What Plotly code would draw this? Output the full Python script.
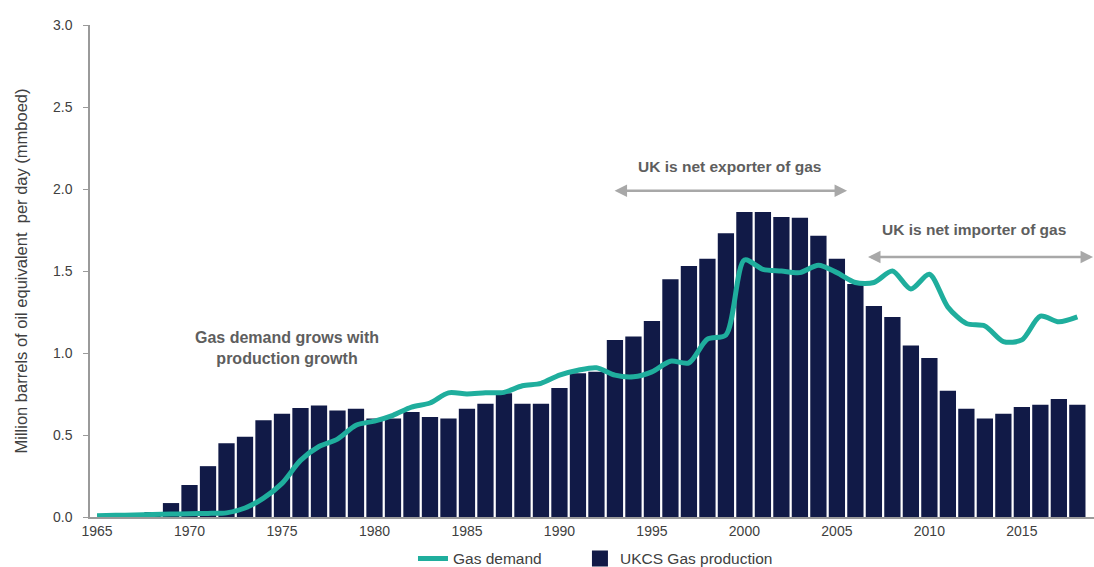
import plotly.graph_objects as go

# UK gas production (UKCS) and gas demand, million barrels of oil equivalent per day
years = list(range(1965, 2019))

production = [
    0.0, 0.0, 0.0, 0.03, 0.085, 0.195, 0.31, 0.45, 0.49, 0.59,
    0.63, 0.665, 0.68, 0.65, 0.66, 0.60, 0.60, 0.64, 0.61, 0.60,
    0.66, 0.69, 0.755, 0.69, 0.69, 0.787, 0.877, 0.885, 1.08, 1.10,
    1.195, 1.45, 1.53, 1.575, 1.73, 1.86, 1.86, 1.83, 1.825, 1.715,
    1.575, 1.42, 1.287, 1.22, 1.045, 0.97, 0.77, 0.66, 0.60, 0.63,
    0.67, 0.685, 0.72, 0.685,
]

demand = [
    0.008, 0.01, 0.012, 0.015, 0.018, 0.02, 0.022, 0.025, 0.055, 0.115,
    0.205, 0.345, 0.43, 0.475, 0.56, 0.585, 0.62, 0.67, 0.695, 0.757,
    0.75, 0.757, 0.76, 0.80, 0.815, 0.865, 0.895, 0.91, 0.865, 0.855,
    0.885, 0.95, 0.94, 1.085, 1.11, 1.567, 1.51, 1.50, 1.49, 1.535,
    1.49, 1.43, 1.43, 1.50, 1.39, 1.48, 1.28, 1.18, 1.165, 1.07,
    1.08, 1.225, 1.19, 1.22,
]

x_ticks = [1965, 1970, 1975, 1980, 1985, 1990, 1995, 2000, 2005, 2010, 2015]
y_ticks = [0.0, 0.5, 1.0, 1.5, 2.0, 2.5, 3.0]

BAR = "#111a47"
LINE = "#1fae9d"
GREY_TXT = "#5e5e5e"
ARROW = "#a8a8a8"
AXIS = "#9a9a9a"
TXT = "#404040"
FONT = "Liberation Sans, Arial, sans-serif"

fig = go.Figure()

fig.add_trace(go.Bar(
    x=years, y=production, name="UKCS Gas production",
    marker=dict(color=BAR, line=dict(width=0)),
    showlegend=False,
))

fig.add_trace(go.Scatter(
    x=years, y=demand, name="Gas demand", mode="lines",
    line=dict(color=LINE, width=5, shape="spline", smoothing=0.8),
    legend="legend",
))

# legend key for the production bars: a larger filled square
fig.add_trace(go.Scatter(
    x=[None], y=[None], name="UKCS Gas production", mode="markers",
    marker=dict(symbol="square", size=18, color=BAR),
    legend="legend2", hoverinfo="skip",
))

annotations = [
    dict(x=1975.27, y=1.03, xref="x", yref="y", showarrow=False,
         text="<b>Gas demand grows with<br>production growth</b>",
         font=dict(size=16, color=GREY_TXT, family=FONT), align="center"),
    dict(x=1999.19, y=2.14, xref="x", yref="y", showarrow=False,
         text="<b>UK is net exporter of gas</b>",
         font=dict(size=15.5, color=GREY_TXT, family=FONT)),
    dict(x=2012.4, y=1.755, xref="x", yref="y", showarrow=False,
         text="<b>UK is net importer of gas</b>",
         font=dict(size=15.5, color=GREY_TXT, family=FONT)),
    # double-headed period arrows
    dict(x=2005.55, y=1.99, ax=1992.9, ay=1.99, xref="x", yref="y",
         axref="x", ayref="y", text="", showarrow=True,
         arrowhead=2, startarrowhead=2, arrowside="end+start",
         arrowsize=1.0, startarrowsize=1.0, arrowwidth=2.5, arrowcolor=ARROW),
    dict(x=2018.85, y=1.585, ax=2006.6, ay=1.585, xref="x", yref="y",
         axref="x", ayref="y", text="", showarrow=True,
         arrowhead=2, startarrowhead=2, arrowside="end+start",
         arrowsize=1.0, startarrowsize=1.0, arrowwidth=2.5, arrowcolor=ARROW),
]

legend_common = dict(orientation="h", xanchor="left", y=-0.085,
                     yanchor="middle", font=dict(size=15.5, color=TXT),
                     itemwidth=30, itemsizing="trace",
                     bgcolor="rgba(0,0,0,0)")

fig.update_layout(
    width=1094, height=567,
    margin=dict(l=90, r=0, t=25, b=50, autoexpand=False),
    paper_bgcolor="white", plot_bgcolor="white",
    font=dict(family=FONT, size=14, color=TXT),
    bargap=0.12,
    showlegend=True,
    legend=dict(x=0.3217, **legend_common),
    legend2=dict(x=0.488, **legend_common),
    annotations=annotations,
)

fig.update_xaxes(
    range=[1964.62, 2018.9], tickvals=x_ticks, showgrid=False,
    showline=True, linecolor=AXIS, linewidth=1.5, ticks="",
    tickfont=dict(size=14, color=TXT), zeroline=False,
)

fig.update_yaxes(
    range=[0, 3.0], tickvals=y_ticks, tickformat=".1f", showgrid=False,
    showline=True, linecolor=AXIS, linewidth=1.5,
    ticks="outside", ticklen=5, tickcolor=AXIS, ticklabelstandoff=8,
    tickfont=dict(size=14, color=TXT), zeroline=False,
    title=dict(text="Million barrels of oil equivalent  per day (mmboed)",
               font=dict(size=16.5, color=TXT), standoff=21),
)

fig.write_html("out.html")
